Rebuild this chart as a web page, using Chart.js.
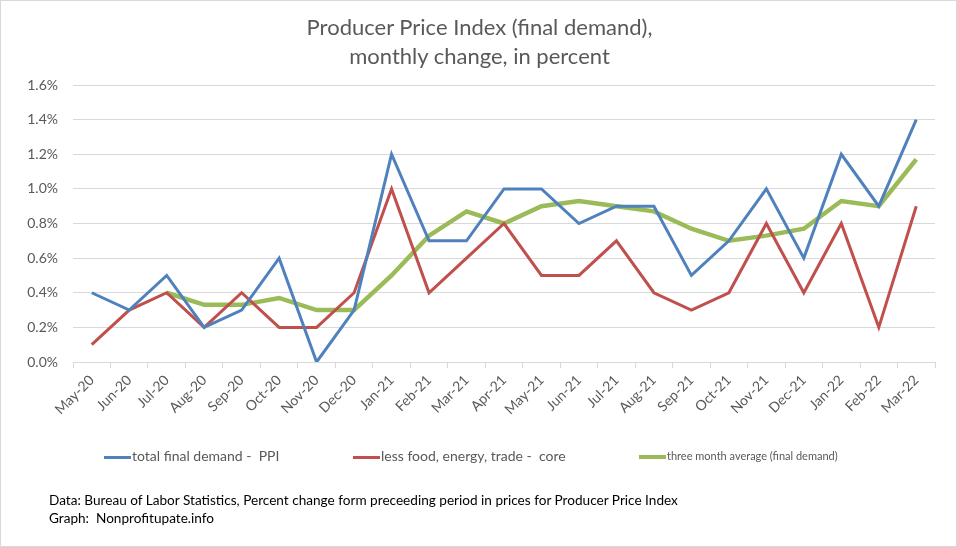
<!DOCTYPE html>
<html>
<head>
<meta charset="utf-8">
<script src="https://cdn.jsdelivr.net/npm/chart.js@4"></script>
<style>
    body { margin: 0; background: #fff; }
    #wrap {
        position: relative;
        width: 957px;
        height: 547px;
        box-sizing: border-box;
        border: 1px solid #d9d9d9;
        font-family: Lato, "Open Sans", sans-serif;
        color: #404040;
    }
    #wrap canvas { position: absolute; left: 0; top: 0; }
    .title {
        position: absolute; left: 0; width: 957px; text-align: center;
        font-size: 22px; color: #595959;
    }
    .legend { position: absolute; top: 446px; font-size: 14px; color: #595959; white-space: nowrap; }
    .legend span.swatch {
        display: inline-block; width: 27px; height: 3px; vertical-align: middle; margin-right: 1px;
    }
    .note { position: absolute; left: 48px; font-size: 13.6px; color: #000; white-space: nowrap; }
</style>
</head>
<body>
<div id="wrap">
    <canvas id="ppiChart" width="957" height="547"></canvas>
    <div class="title" style="top:12px">Producer Price Index (final demand),</div>
    <div class="title" style="top:41px">monthly change, in percent</div>

    <div class="legend" style="left:103px"><span class="swatch" style="background:#4f81bd"></span>total final demand -&nbsp; PPI</div>
    <div class="legend" style="left:352px"><span class="swatch" style="background:#c0504d"></span>less food, energy, trade -&nbsp; core</div>
    <div class="legend" style="left:638px; font-size:11px; top:448px"><span class="swatch" style="background:#9bbb59; height:4px"></span>three month average (final demand)</div>

    <div class="note" style="top:491px">Data: Bureau of Labor Statistics, Percent change form preceeding period in prices for Producer Price Index</div>
    <div class="note" style="top:509px">Graph:&nbsp; Nonprofitupate.info</div>
</div>

<script>
// months on the x axis
const months = ['May-20', 'Jun-20', 'Jul-20', 'Aug-20', 'Sep-20', 'Oct-20', 'Nov-20', 'Dec-20',
    'Jan-21', 'Feb-21', 'Mar-21', 'Apr-21', 'May-21', 'Jun-21', 'Jul-21', 'Aug-21',
    'Sep-21', 'Oct-21', 'Nov-21', 'Dec-21', 'Jan-22', 'Feb-22', 'Mar-22'];

// total final demand - PPI
const ppiTotal = [0.4, 0.3, 0.5, 0.2, 0.3, 0.6, 0.0, 0.3, 1.2, 0.7, 0.7, 1.0, 1.0, 0.8, 0.9, 0.9,
    0.5, 0.7, 1.0, 0.6, 1.2, 0.9, 1.4];

// less food, energy, trade - core
const ppiCore = [0.1, 0.3, 0.4, 0.2, 0.4, 0.2, 0.2, 0.4, 1.0, 0.4, 0.6, 0.8, 0.5, 0.5, 0.7, 0.4,
    0.3, 0.4, 0.8, 0.4, 0.8, 0.2, 0.9];

// three month average (final demand)
const threeMonthAvg = [null, null, 0.40, 0.33, 0.33, 0.37, 0.30, 0.30, 0.50, 0.73, 0.87, 0.80, 0.90, 0.93,
    0.90, 0.87, 0.77, 0.70, 0.73, 0.77, 0.93, 0.90, 1.17];

// y axis ticks (percent)
const yTicks = [0, 0.2, 0.4, 0.6, 0.8, 1.0, 1.2, 1.4, 1.6];

const ctx = document.getElementById('ppiChart');

new Chart(ctx, {
    type: 'line',
    data: {
        labels: months,
        datasets: [
            {
                label: 'total final demand -  PPI',
                data: ppiTotal,
                borderColor: '#4f81bd',
                borderWidth: 3,
                pointRadius: 0,
                tension: 0
            },
            {
                label: 'less food, energy, trade -  core',
                data: ppiCore,
                borderColor: '#c0504d',
                borderWidth: 3,
                pointRadius: 0,
                tension: 0
            },
            {
                label: 'three month average (final demand)',
                data: threeMonthAvg,
                borderColor: '#9bbb59',
                borderWidth: 4.5,
                pointRadius: 0,
                tension: 0
            }
        ]
    },
    options: {
        responsive: false,
        animation: false,
        layout: { padding: { top: 84, right: 23, bottom: 0, left: 0 } },
        plugins: {
            legend: { display: false },
            title: { display: false },
            tooltip: { enabled: false }
        },
        scales: {
            y: {
                min: yTicks[0],
                max: yTicks[yTicks.length - 1],
                afterFit: (scale) => { scale.width = 72; },
                afterBuildTicks: (scale) => { scale.ticks = yTicks.map(v => ({ value: v })); },
                grid: { color: '#d9d9d9', drawTicks: false },
                border: { display: false },
                ticks: {
                    color: '#595959',
                    font: { family: 'Lato', size: 14 },
                    padding: 15,
                    callback: (v) => v.toFixed(1) + '%'
                }
            },
            x: {
                offset: true,
                afterFit: (scale) => { scale.height = 186; },
                grid: {
                    offset: true,
                    drawOnChartArea: false,
                    color: '#d9d9d9',
                    tickLength: 6
                },
                border: { color: '#d9d9d9' },
                ticks: {
                    color: '#595959',
                    font: { family: 'Lato', size: 14 },
                    minRotation: 45,
                    maxRotation: 45,
                    autoSkip: false,
                    padding: 4
                }
            }
        }
    }
});
</script>
</body>
</html>
